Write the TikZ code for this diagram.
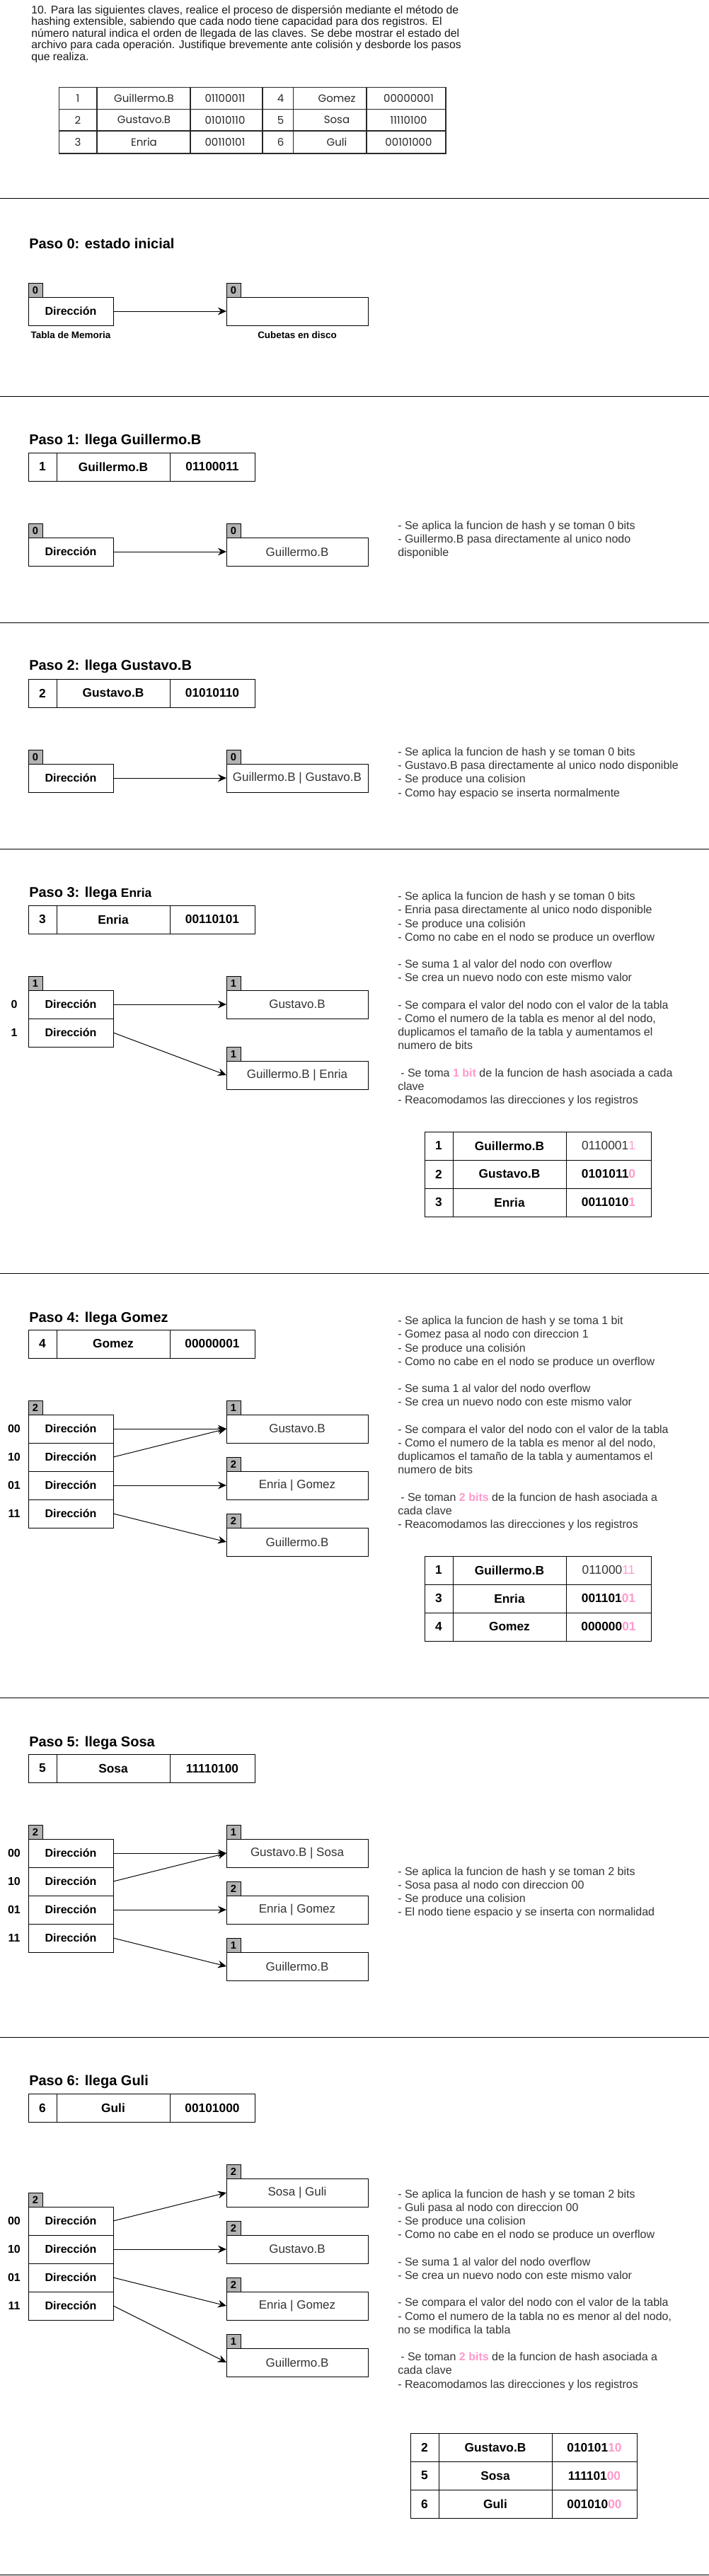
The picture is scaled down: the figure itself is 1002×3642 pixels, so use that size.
\documentclass[tikz,border=0pt]{standalone}
\usepackage{fontspec}
\usepackage{graphicx}
\setmainfont{Liberation Sans}
\newfontfamily\popfont{Poppins}
\usetikzlibrary{arrows.meta}
\definecolor{pinkbit}{RGB}{255,153,204}
\definecolor{badgegray}{RGB}{179,179,179}
\definecolor{txtgray}{RGB}{51,51,51}
\definecolor{qgray}{RGB}{40,40,40}
\newcommand\myfs[2]{\fontsize{#1}{#2}\selectfont}
\newcommand\pk[1]{{\color{pinkbit}#1}}
\newcommand\recrow[5]{%
  \node[rc, minimum width=30pt] (#1n) at (40,#2) {#3};
  \node[rc, minimum width=120pt] (#1k) at (80,#2) {#4};
  \node[rc, minimum width=90pt] (#1h) at (240,#2) {#5};}
\newcommand\lowrow[6]{%
  \node[rc, minimum width=30pt] (#1n) at (#2,#3) {#4};
  \node[rc, minimum width=120pt] (#1k) at (#2+40,#3) {#5};
  \node[rc, minimum width=90pt] (#1h) at (#2+200,#3) {#6};}
\begin{document}
\begin{tikzpicture}[x=0.75pt,y=-0.75pt,
  box/.style={draw=black, line width=0.75pt, inner sep=0pt, outer sep=0pt, anchor=north west},
  badge/.style={box, fill=badgegray, minimum width=15pt, minimum height=15pt, font=\bfseries\myfs{11}{12}},
  dir/.style={box, minimum width=90pt, minimum height=30pt, font=\bfseries\myfs{12}{14}},
  bucket/.style={box, minimum width=150pt, minimum height=30pt, font=\myfs{12.75}{15}, text=txtgray},
  rc/.style={box, minimum height=30pt, font=\bfseries\myfs{13}{15}},
  idx/.style={inner sep=0pt, font=\bfseries\myfs{12}{14}},
  ttl/.style={anchor=base west, inner sep=0pt, font=\bfseries\myfs{15}{18}},
  expl/.style={anchor=base west, inner sep=0pt, font=\myfs{12}{14.4}, text=txtgray},
  capt/.style={inner sep=0pt, font=\bfseries\myfs{10.1}{12}},
  intro/.style={anchor=base west, inner sep=0pt, font=\myfs{11.8}{12.4}, text=black!90},
  qtxt/.style={inner sep=0pt, font=\popfont\myfs{11.25}{13}, text=qgray},
  qline/.style={draw=qgray, line width=1.2pt},
  arr/.style={-{Stealth[length=9pt,width=8pt,inset=3pt]}, line width=0.75pt},
  sep/.style={line width=0.75pt}]
\useasboundingbox (0,0) rectangle (1002,3642);
\fill[white] (0,0) rectangle (1002,3642);

% ---------------- intro ----------------
\node[intro] (intro) at (44,19) {\begin{tabular}[t]{@{}l@{}}10. Para las siguientes claves, realice el proceso de dispersión mediante el método de\\
hashing extensible, sabiendo que cada nodo tiene capacidad para dos registros. El\\
número natural indica el orden de llegada de las claves. Se debe mostrar el estado del\\
archivo para cada operación. Justifique brevemente ante colisión y desborde los pasos\\
que realiza.\end{tabular}};

\draw[qline] (83.5,123.3) rectangle (630,216.7);
\draw[qline] (83.5,154.3) -- (630,154.3) (83.5,185) -- (630,185);
\foreach \xx in {137,268.7,370.7,414.3,517.7} \draw[qline] (\xx,123.3) -- (\xx,216.7);
\node[qtxt] (q11) at (110,138.8) {1};
\node[qtxt] (q12) at (203.5,138.8) {Guillermo.B};
\node[qtxt] (q13) at (318,138.8) {01100011};
\node[qtxt] (q14) at (396.7,138.8) {4};
\node[qtxt] (q15) at (476,138.8) {Gomez};
\node[qtxt] (q16) at (577.5,138.8) {00000001};
\node[qtxt] (q21) at (110,169.7) {2};
\node[qtxt] (q22) at (203.5,169.7) {Gustavo.B};
\node[qtxt] (q23) at (318,169.7) {01010110};
\node[qtxt] (q24) at (396.7,169.7) {5};
\node[qtxt] (q25) at (476,169.7) {Sosa};
\node[qtxt] (q26) at (577.5,169.7) {11110100};
\node[qtxt] (q31) at (110,200.8) {3};
\node[qtxt] (q32) at (203.5,200.8) {Enria};
\node[qtxt] (q33) at (318,200.8) {00110101};
\node[qtxt] (q34) at (396.7,200.8) {6};
\node[qtxt] (q35) at (476,200.8) {Guli};
\node[qtxt] (q36) at (577.5,200.8) {00101000};

% ---------------- separators ----------------
\foreach \yy in {280,560,880,1200,1800,2400,2880,3640} \draw[sep] (0,\yy) -- (1002,\yy);

% ---------------- Paso 0 ----------------
\node[ttl] (t0) at (41,351) {Paso 0: estado inicial};
\node[badge] (m0b) at (40,400) {0};
\node[dir] (m0d) at (40,420) {Dirección};
\node[badge] (c0b) at (320,400) {0};
\node[bucket] (c0) at (320,420) {};
\node[capt] (l0a) at (100,474) {Tabla de Memoria};
\node[capt] (l0b) at (420,474) {Cubetas en disco};
\draw[arr] (m0d.east) -- (c0.west);

% ---------------- Paso 1 ----------------
\node[ttl] (t1) at (41,628) {Paso 1: llega Guillermo.B};
\recrow{r1}{640}{1}{Guillermo.B}{01100011}
\node[badge] (m1b) at (40,740) {0};
\node[dir] (m1d) at (40,760) {Dirección};
\node[badge] (c1b) at (320,740) {0};
\node[bucket] (c1) at (320,760) {Guillermo.B};
\draw[arr] (m1d.east) -- (c1.west);
\node[expl] (x1) at (562,748) {\begin{tabular}[t]{@{}l@{}}- Se aplica la funcion de hash y se toman 0 bits\\
- Guillermo.B pasa directamente al unico nodo\\
disponible\end{tabular}};

% ---------------- Paso 2 ----------------
\node[ttl] (t2) at (41,947) {Paso 2: llega Gustavo.B};
\recrow{r2}{960}{2}{Gustavo.B}{01010110}
\node[badge] (m2b) at (40,1060) {0};
\node[dir] (m2d) at (40,1080) {Dirección};
\node[badge] (c2b) at (320,1060) {0};
\node[bucket] (c2) at (320,1080) {Guillermo.B | Gustavo.B};
\draw[arr] (m2d.east) -- (c2.west);
\node[expl] (x2) at (562,1068.5) {\begin{tabular}[t]{@{}l@{}}- Se aplica la funcion de hash y se toman 0 bits\\
- Gustavo.B pasa directamente al unico nodo disponible\\
- Se produce una colision\\
- Como hay espacio se inserta normalmente\end{tabular}};

% ---------------- Paso 3 ----------------
\node[ttl] (t3) at (41,1268) {Paso 3: llega {\myfs{13}{15}Enria}};
\recrow{r3}{1280}{3}{Enria}{00110101}
\node[badge] (m3b) at (40,1380) {1};
\node[dir] (m3a) at (40,1400) {Dirección};
\node[dir] (m3c) at (40,1440) {Dirección};
\node[idx] (i3a) at (20,1420) {0};
\node[idx] (i3b) at (20,1460) {1};
\node[badge] (c3ab) at (320,1380) {1};
\node[bucket] (c3a) at (320,1400) {Gustavo.B};
\node[badge] (c3bb) at (320,1480) {1};
\node[bucket] (c3b) at (320,1500) {Guillermo.B | Enria};
\draw[arr] (m3a.east) -- (c3a.west);
\draw[arr] (m3c.east) -- (c3b.west);
\node[expl] (x3) at (562,1272.7) {\begin{tabular}[t]{@{}l@{}}- Se aplica la funcion de hash y se toman 0 bits\\
- Enria pasa directamente al unico nodo disponible\\
- Se produce una colisión\\
- Como no cabe en el nodo se produce un overflow\\
~\\
- Se suma 1 al valor del nodo con overflow\\
- Se crea un nuevo nodo con este mismo valor\\
~\\
- Se compara el valor del nodo con el valor de la tabla\\
- Como el numero de la tabla es menor al del nodo,\\
duplicamos el tamaño de la tabla y aumentamos el\\
numero de bits\\
~\\
\hspace{3pt}- Se toma \pk{\bfseries 1 bit} de la funcion de hash asociada a cada\\
clave\\
- Reacomodamos las direcciones y los registros\end{tabular}};
\lowrow{u3a}{600}{1600}{1}{Guillermo.B}{{\mdseries\color{txtgray}0110001\pk{1}}}
\lowrow{u3b}{600}{1640}{2}{Gustavo.B}{0101011\pk{0}}
\lowrow{u3c}{600}{1680}{3}{Enria}{0011010\pk{1}}

% ---------------- Paso 4 ----------------
\node[ttl] (t4) at (41,1869) {Paso 4: llega Gomez};
\recrow{r4}{1880}{4}{Gomez}{00000001}
\node[badge] (m4b) at (40,1980) {2};
\node[dir] (m4a) at (40,2000) {Dirección};
\node[dir] (m4c) at (40,2040) {Dirección};
\node[dir] (m4e) at (40,2080) {Dirección};
\node[dir] (m4f) at (40,2120) {Dirección};
\node[idx] (i4a) at (20,2020) {00};
\node[idx] (i4b) at (20,2060) {10};
\node[idx] (i4c) at (20,2100) {01};
\node[idx] (i4d) at (20,2140) {11};
\node[badge] (c4ab) at (320,1980) {1};
\node[bucket] (c4a) at (320,2000) {Gustavo.B};
\node[badge] (c4bb) at (320,2060) {2};
\node[bucket] (c4b) at (320,2080) {Enria | Gomez};
\node[badge] (c4cb) at (320,2140) {2};
\node[bucket] (c4c) at (320,2160) {Guillermo.B};
\draw[arr] (m4a.east) -- (c4a.west);
\draw[arr] (m4c.east) -- (c4a.west);
\draw[arr] (m4e.east) -- (c4b.west);
\draw[arr] (m4f.east) -- (c4c.west);
\node[expl] (x4) at (562,1872.7) {\begin{tabular}[t]{@{}l@{}}- Se aplica la funcion de hash y se toma 1 bit\\
- Gomez pasa al nodo con direccion 1\\
- Se produce una colisión\\
- Como no cabe en el nodo se produce un overflow\\
~\\
- Se suma 1 al valor del nodo overflow\\
- Se crea un nuevo nodo con este mismo valor\\
~\\
- Se compara el valor del nodo con el valor de la tabla\\
- Como el numero de la tabla es menor al del nodo,\\
duplicamos el tamaño de la tabla y aumentamos el\\
numero de bits\\
~\\
\hspace{3pt}- Se toman \pk{\bfseries 2 bits} de la funcion de hash asociada a\\
cada clave\\
- Reacomodamos las direcciones y los registros\end{tabular}};
\lowrow{u4a}{600}{2200}{1}{Guillermo.B}{{\mdseries\color{txtgray}011000\pk{11}}}
\lowrow{u4b}{600}{2240}{3}{Enria}{001101\pk{01}}
\lowrow{u4c}{600}{2280}{4}{Gomez}{000000\pk{01}}

% ---------------- Paso 5 ----------------
\node[ttl] (t5) at (41,2469) {Paso 5: llega Sosa};
\recrow{r5}{2480}{5}{Sosa}{11110100}
\node[badge] (m5b) at (40,2580) {2};
\node[dir] (m5a) at (40,2600) {Dirección};
\node[dir] (m5c) at (40,2640) {Dirección};
\node[dir] (m5e) at (40,2680) {Dirección};
\node[dir] (m5f) at (40,2720) {Dirección};
\node[idx] (i5a) at (20,2620) {00};
\node[idx] (i5b) at (20,2660) {10};
\node[idx] (i5c) at (20,2700) {01};
\node[idx] (i5d) at (20,2740) {11};
\node[badge] (c5ab) at (320,2580) {1};
\node[bucket] (c5a) at (320,2600) {Gustavo.B | Sosa};
\node[badge] (c5bb) at (320,2660) {2};
\node[bucket] (c5b) at (320,2680) {Enria | Gomez};
\node[badge] (c5cb) at (320,2740) {1};
\node[bucket] (c5c) at (320,2760) {Guillermo.B};
\draw[arr] (m5a.east) -- (c5a.west);
\draw[arr] (m5c.east) -- (c5a.west);
\draw[arr] (m5e.east) -- (c5b.west);
\draw[arr] (m5f.east) -- (c5c.west);
\node[expl] (x5) at (562,2651) {\begin{tabular}[t]{@{}l@{}}- Se aplica la funcion de hash y se toman 2 bits\\
- Sosa pasa al nodo con direccion 00\\
- Se produce una colision\\
- El nodo tiene espacio y se inserta con normalidad\end{tabular}};

% ---------------- Paso 6 ----------------
\node[ttl] (t6) at (41,2948) {Paso 6: llega Guli};
\recrow{r6}{2960}{6}{Guli}{00101000}
\node[badge] (m6b) at (40,3100) {2};
\node[dir] (m6a) at (40,3120) {Dirección};
\node[dir] (m6c) at (40,3160) {Dirección};
\node[dir] (m6e) at (40,3200) {Dirección};
\node[dir] (m6f) at (40,3240) {Dirección};
\node[idx] (i6a) at (20,3140) {00};
\node[idx] (i6b) at (20,3180) {10};
\node[idx] (i6c) at (20,3220) {01};
\node[idx] (i6d) at (20,3260) {11};
\node[badge] (c6ab) at (320,3060) {2};
\node[bucket] (c6a) at (320,3080) {Sosa | Guli};
\node[badge] (c6bb) at (320,3140) {2};
\node[bucket] (c6b) at (320,3160) {Gustavo.B};
\node[badge] (c6cb) at (320,3220) {2};
\node[bucket] (c6c) at (320,3240) {Enria | Gomez};
\node[badge] (c6db) at (320,3300) {1};
\node[bucket] (c6d) at (320,3320) {Guillermo.B};
\draw[arr] (m6a.east) -- (c6a.west);
\draw[arr] (m6c.east) -- (c6b.west);
\draw[arr] (m6e.east) -- (c6c.west);
\draw[arr] (m6f.east) -- (c6d.west);
\node[expl] (x6) at (562,3107.3) {\begin{tabular}[t]{@{}l@{}}- Se aplica la funcion de hash y se toman 2 bits\\
- Guli pasa al nodo con direccion 00\\
- Se produce una colision\\
- Como no cabe en el nodo se produce un overflow\\
~\\
- Se suma 1 al valor del nodo overflow\\
- Se crea un nuevo nodo con este mismo valor\\
~\\
- Se compara el valor del nodo con el valor de la tabla\\
- Como el numero de la tabla no es menor al del nodo,\\
no se modifica la tabla\\
~\\
\hspace{3pt}- Se toman \pk{\bfseries 2 bits} de la funcion de hash asociada a\\
cada clave\\
- Reacomodamos las direcciones y los registros\end{tabular}};
\lowrow{u6a}{580}{3440}{2}{Gustavo.B}{010101\pk{10}}
\lowrow{u6b}{580}{3480}{5}{Sosa}{111101\pk{00}}
\lowrow{u6c}{580}{3520}{6}{Guli}{001010\pk{00}}
\end{tikzpicture}
\end{document}
